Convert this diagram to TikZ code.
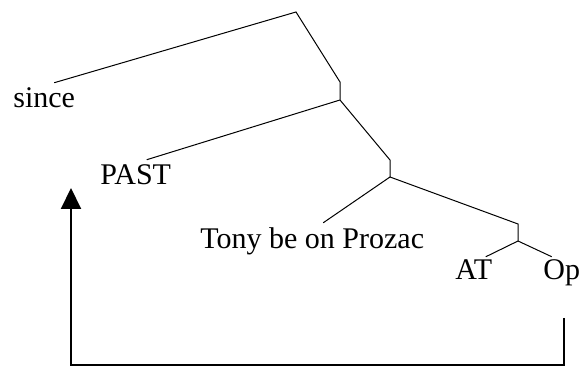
\documentclass[tikz,border=0pt]{standalone}
\usepackage{fontspec}
\setmainfont{Liberation Serif}
\usetikzlibrary{positioning, arrows.meta, calc}

\begin{document}
\begin{tikzpicture}[x=0.5pt,y=-0.5pt,
    leaf/.style={anchor=base west,inner sep=0pt,font=\fontsize{15}{18}\selectfont},
    branch/.style={line width=0.5pt}]
\useasboundingbox (0,0) rectangle (579,367);
% junctions
\coordinate (top) at (296,12);
\coordinate (k1) at (340,82);
\coordinate (n1) at (340,100);
\coordinate (k2) at (390,160);
\coordinate (n2) at (390,177);
\coordinate (k3) at (518,224);
\coordinate (n3) at (518,241);
% leaves
\node[leaf] (since) at (13,108) {since};
\node[leaf] (past) at (100,185) {PAST};
\node[leaf] (tony) at (200,249) {Tony be on Prozac};
\node[leaf] (at) at (455,280) {AT};
\node[leaf] (op) at (543,280) {Op};
\draw[branch] ($(since.north)+(10,-5)$) -- (top) -- (k1) -- (n1) -- (k2) -- (n2) -- (k3) -- (n3);
\draw[branch] (n1) -- ($(past.north)+(11,-5)$);
\draw[branch] (n2) -- ($(tony.north)+(11,-5)$);
\draw[branch] (n3) -- ($(at.north)+(12,-3)$);
\draw[branch] (n3) -- ($(op.north)+(-10,-3)$);
% movement arrow
\coordinate (opfoot) at (564,318);
\coordinate (corner) at (564,365);
\coordinate (pastfoot) at (71,188);
\draw[line width=1pt,-{Triangle[width=10pt,length=10.5pt]}] (opfoot) -- (corner) -| (pastfoot);
\end{tikzpicture}
\end{document}
